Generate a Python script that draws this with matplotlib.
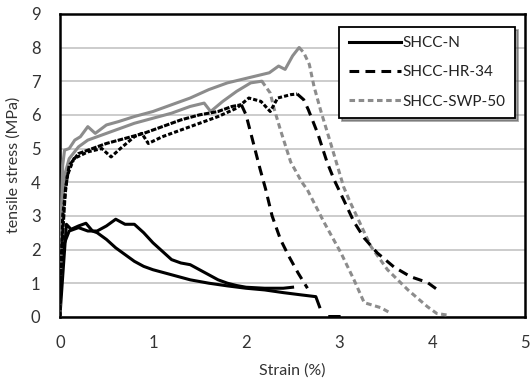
import numpy as np
import matplotlib
matplotlib.use("Agg")
import matplotlib.pyplot as plt
from matplotlib.lines import Line2D

plt.rcParams['font.family'] = ['Lato', 'DejaVu Sans']
plt.rcParams['lines.scale_dashes'] = False

# ---- data (strain %, tensile stress MPa) ----
n1_x = [0, 0.03, 0.07, 0.12, 0.2, 0.28, 0.35, 0.4, 0.5, 0.6, 0.7, 0.8, 0.9, 1.0, 1.2, 1.4, 1.6, 1.8, 2.0, 2.2, 2.4, 2.6, 2.75, 2.79, np.nan, 2.9, 3.0]
n1_y = [0, 1.2, 2.75, 2.6, 2.7, 2.78, 2.55, 2.5, 2.3, 2.05, 1.85, 1.65, 1.5, 1.4, 1.25, 1.1, 1.0, 0.92, 0.85, 0.8, 0.72, 0.65, 0.6, 0.3, np.nan, 0.01, 0.01]

n2_x = [0, 0.01, 0.05, 0.1, 0.2, 0.3, 0.4, 0.5, 0.6, 0.7, 0.8, 0.9, 1.0, 1.1, 1.2, 1.3, 1.4, 1.5, 1.6, 1.7, 1.8, 1.9, 2.0, 2.2, 2.4, 2.5]
n2_y = [0, 1.7, 2.2, 2.55, 2.65, 2.55, 2.55, 2.7, 2.9, 2.75, 2.75, 2.5, 2.2, 1.95, 1.7, 1.6, 1.55, 1.4, 1.25, 1.1, 1.0, 0.93, 0.88, 0.85, 0.85, 0.88]

hr1_x = [0, 0.02, 0.06, 0.1, 0.2, 0.35, 0.5, 0.7, 0.9, 1.1, 1.3, 1.5, 1.7, 1.85, 1.95,
         2.0, 2.08, 2.15, 2.21, 2.28, 2.37, 2.46, 2.56, 2.66]
hr1_y = [0, 2.0, 3.8, 4.5, 4.85, 5.0, 5.15, 5.3, 5.45, 5.65, 5.85, 6.0, 6.1, 6.25, 6.3,
         6.0, 5.15, 4.4, 3.8, 3.0, 2.3, 1.8, 1.3, 0.85]

hr2_x = [0, 0.03, 0.08, 0.15, 0.3, 0.45, 0.55, 0.65, 0.8, 0.88, 0.95, 1.1, 1.3, 1.5, 1.7, 1.9, 2.03, 2.16, 2.26, 2.34, 2.48, 2.55,
         2.62, 2.67, 2.77, 2.87, 2.95, 3.05, 3.16, 3.27, 3.41, 3.59, 3.77, 3.95, 4.07]
hr2_y = [0, 3.0, 4.2, 4.7, 4.9, 5.0, 4.75, 5.0, 5.35, 5.45, 5.15, 5.35, 5.55, 5.75, 5.95, 6.2, 6.5, 6.4, 6.1, 6.5, 6.6, 6.62,
         6.45, 6.15, 5.45, 4.6, 4.05, 3.47, 2.82, 2.34, 1.9, 1.48, 1.19, 1.02, 0.78]

swp1_x = [0, 0.01, 0.03, 0.05, 0.1, 0.16, 0.22, 0.3, 0.38, 0.5, 0.63, 0.8, 1.0, 1.2, 1.4, 1.6, 1.8, 1.95, 2.1, 2.25, 2.35, 2.42, 2.5, 2.57,
          2.62, 2.68, 2.73, 2.8, 2.91, 3.05, 3.12, 3.2, 3.34, 3.52, 3.74, 3.95, 4.05, 4.17]
swp1_y = [0, 2.5, 4.5, 4.95, 5.0, 5.25, 5.35, 5.65, 5.45, 5.7, 5.8, 5.95, 6.1, 6.3, 6.5, 6.75, 6.95, 7.05, 7.15, 7.25, 7.45, 7.35, 7.75, 8.0,
          7.85, 7.5, 6.85, 6.15, 5.15, 3.85, 3.4, 2.93, 2.1, 1.4, 0.8, 0.3, 0.1, 0.05]

swp2_x = [0, 0.02, 0.05, 0.1, 0.2, 0.3, 0.45, 0.6, 0.8, 1.0, 1.2, 1.4, 1.55, 1.62, 1.75, 1.9, 2.05, 2.17,
          2.26, 2.3, 2.37, 2.48, 2.6, 2.66, 2.84, 3.02, 3.16, 3.27, 3.32, 3.45, 3.56]
swp2_y = [0, 3.0, 4.2, 4.7, 5.05, 5.25, 5.4, 5.55, 5.75, 5.9, 6.05, 6.25, 6.35, 6.1, 6.4, 6.7, 6.95, 7.0,
          6.65, 6.2, 5.55, 4.6, 4.0, 3.77, 2.8, 1.9, 1.1, 0.42, 0.38, 0.27, 0.1]

series_names = ['SHCC-N', 'SHCC-HR-34', 'SHCC-SWP-50']
x_ticks = [0, 1, 2, 3, 4, 5]
y_ticks = [0, 1, 2, 3, 4, 5, 6, 7, 8, 9]

# ---- styles ----
BLACK = '#000000'
GRAY = '#8c8c8c'
LW = 2.2
HR_DASH = (7, 4.5)
SWP_DASH = (4, 2.6)

fig = plt.figure(figsize=(5.3, 3.85), dpi=100)
ax = fig.add_axes([0.113, 0.177, 0.878, 0.787])


def split_plot(xs, ys, color, pre_style, post_dash):
    xs = np.asarray(xs, float)
    ys = np.asarray(ys, float)
    k = int(np.nanargmax(ys))
    kw_pre = dict(color=color, lw=LW, solid_capstyle='round', zorder=3)
    if pre_style is None:
        ax.plot(xs[:k + 1], ys[:k + 1], **kw_pre)
    else:
        ax.plot(xs[:k + 1], ys[:k + 1], dashes=pre_style, **kw_pre)
    ax.plot(xs[k:], ys[k:], color=color, lw=LW, dashes=post_dash, zorder=3)


# SHCC-N solid black
ax.plot(n1_x, n1_y, color=BLACK, lw=LW, zorder=3)
ax.plot(n2_x, n2_y, color=BLACK, lw=LW, zorder=3)
# SHCC-SWP-50 gray
split_plot(swp1_x, swp1_y, GRAY, None, SWP_DASH)
split_plot(swp2_x, swp2_y, GRAY, None, SWP_DASH)
# SHCC-HR-34 black dashed
split_plot(hr1_x, hr1_y, BLACK, (4, 1), HR_DASH)
split_plot(hr2_x, hr2_y, BLACK, (3, 1.5), HR_DASH)

ax.set_xlim(0, 5)
ax.set_ylim(0, 9)
ax.set_xticks(x_ticks)
ax.set_yticks(y_ticks)
ax.yaxis.grid(True, color='#c4c4c4', lw=1.2)
ax.set_axisbelow(True)
for s in ax.spines.values():
    s.set_linewidth(1.8)
    s.set_color('black')
ax.tick_params(axis='both', length=0, labelsize=12, colors='#333333')
ax.tick_params(axis='x', pad=13)
ax.tick_params(axis='y', pad=14)
ax.set_xlabel('Strain (%)', fontsize=11.5, color='#333333', labelpad=9)
ax.set_ylabel('tensile stress (MPa)', fontsize=11.5, color='#333333', labelpad=7)

handles = [Line2D([], [], color=BLACK, lw=LW),
           Line2D([], [], color=BLACK, lw=LW, dashes=HR_DASH),
           Line2D([], [], color=GRAY, lw=LW, dashes=SWP_DASH)]
leg = ax.legend(handles, series_names, loc='upper right', bbox_to_anchor=(0.978, 0.957),
                fancybox=False, shadow=True, framealpha=1, edgecolor='black',
                fontsize=11, handlelength=3.4, handletextpad=0.15, borderpad=0.6,
                labelspacing=1.0, borderaxespad=0)
leg.get_frame().set_linewidth(1.3)
for t in leg.get_texts():
    t.set_color('#222222')

fig.savefig('out.png', dpi=100)
